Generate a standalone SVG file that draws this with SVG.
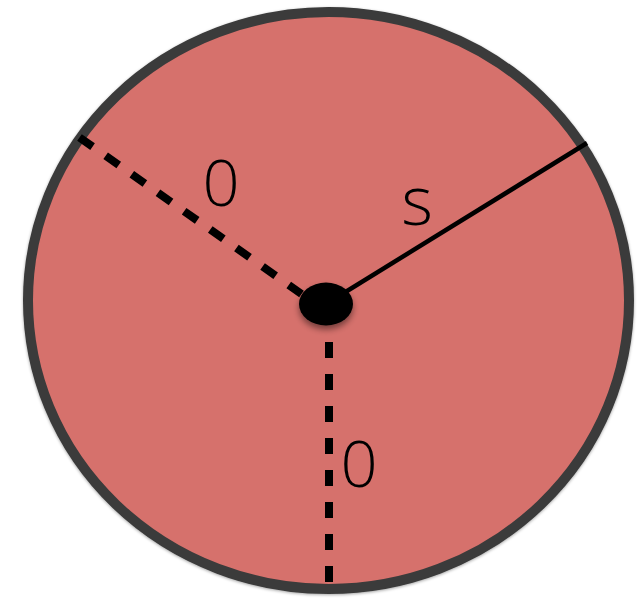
<svg xmlns="http://www.w3.org/2000/svg" width="638" height="598" viewBox="0 0 638 598">
<defs>
<style>
.disc{fill:#d6716c;stroke:#3b3b3b;stroke-width:10}
.dash{stroke:#000;stroke-width:8;stroke-dasharray:16 16;fill:none}
.solid{stroke:#000;stroke-width:4.5;fill:none;stroke-linecap:butt}
.lbl{font-family:"Open Sans","Liberation Sans",sans-serif;font-weight:300;fill:#000;text-anchor:middle}
</style>
<filter id="sh" x="-50%" y="-50%" width="200%" height="200%"><feDropShadow dx="0" dy="4" stdDeviation="3" flood-color="#000" flood-opacity="0.45"/></filter>
<filter id="soft" x="-5%" y="-5%" width="110%" height="110%"><feDropShadow dx="0" dy="1" stdDeviation="1.5" flood-color="#000" flood-opacity="0.35"/></filter>
</defs>
<g id="disc">
<ellipse class="disc" cx="328.5" cy="300.5" rx="300.5" ry="288.5" filter="url(#soft)"/>
</g>
<g id="connectors">
<line class="dash" x1="79.5" y1="137.4" x2="301.5" y2="293.9"/>
<line class="dash" x1="329" y1="342" x2="329" y2="582"/>
<line class="solid" x1="326" y1="304" x2="587" y2="143"/>
</g>
<g id="center">
<ellipse cx="326" cy="304" rx="27" ry="21.5" fill="#000" filter="url(#sh)"/>
</g>
<g id="labels">
<text class="lbl" x="221" y="206" font-size="65">0</text>
<text class="lbl" x="417" y="225" font-size="68">s</text>
<text class="lbl" x="359" y="487" font-size="65">0</text>
</g>
</svg>
